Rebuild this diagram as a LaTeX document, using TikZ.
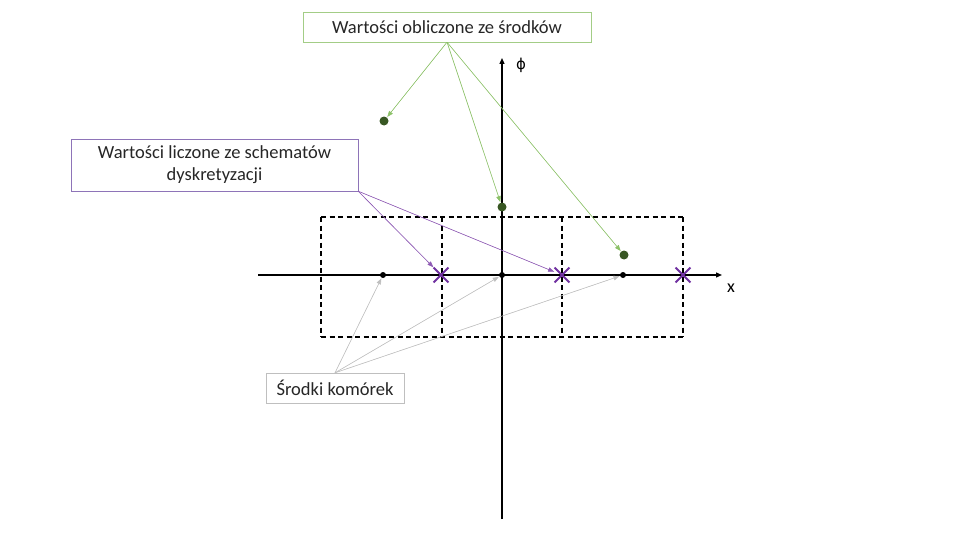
\documentclass[tikz,border=0pt]{standalone}
\usepackage{fontspec}
\setmainfont{Carlito}
\newfontfamily\symfont{DejaVu Sans}
\usepackage{tikz}
\usetikzlibrary{arrows.meta,shapes.misc}

\definecolor{ptgreen}{HTML}{385723}
\definecolor{ptline}{HTML}{8CC168}
\definecolor{ptpurple}{HTML}{7030A0}
\definecolor{ptviolet}{HTML}{8E74B8}
\definecolor{ptgray}{HTML}{BFBFBF}

\tikzset{
  labelbox/.style={draw,fill=white,text=black!85,inner sep=2pt,
    font=\fontsize{18.5}{22}\selectfont},
  valdot/.style={circle,fill=ptgreen,inner sep=0pt,minimum size=9pt},
  cdot/.style={circle,fill=black,inner sep=0pt,minimum size=6pt},
  facex/.style={cross out,draw=ptpurple,line width=1.8pt,inner sep=0pt,minimum size=13pt},
  ptarrow/.style={-{Triangle[length=6pt,width=4.5pt]},line width=0.6pt,shorten >=0.5pt},
  axisarrow/.style={-{Triangle[length=6pt,width=5pt]},line width=1.3pt},
  cellline/.style={line width=1.2pt,dash pattern=on 5pt off 3.5pt}
}

\begin{document}
\begin{tikzpicture}[x=1pt,y=-1pt]
  % 全体の大きさ (ピクセル相当)
  \useasboundingbox (0,0) rectangle (980,551);
  \def\AxisY{275}  % x軸の高さ
  \def\AxisX{502}  % φ軸の位置

  % 破線のセル
  \draw[cellline] (321,217) -- (683,217);
  \draw[cellline] (321,337) -- (683,337);
  \foreach \a in {321,442,562,683}
    \draw[cellline] (\a,217) -- (\a,337);

  % 軸
  \draw[axisarrow] (258,\AxisY) -- (722,\AxisY);
  \draw[axisarrow] (\AxisX,519) -- (\AxisX,58);
  \node[font=\fontsize{18}{22}\selectfont] (xlab) at (731,288) {x};
  \node[font=\symfont\fontsize{15}{18}\selectfont] (philab) at (521,65) {ϕ};

  % セル中心と面
  \foreach \n/\cx in {1/383,2/502,3/623}
    \node[cdot] (c\n) at (\cx,\AxisY) {};
  \foreach \n/\fx in {1/441,2/562,3/683}
    \node[facex] (f\n) at (\fx,\AxisY) {};

  % 中心から計算された値
  \node[valdot] (v1) at (384,121) {};
  \node[valdot] (v2) at (502,207) {};
  \node[valdot] (v3) at (624,255) {};

  % ラベル
  \node[labelbox,draw=ptline!80,minimum width=288pt,minimum height=30pt] (top) at (447,27)
    {Wartości obliczone ze środków};
  \node[labelbox,draw=ptviolet,minimum width=287pt,minimum height=52pt,align=center] (disc) at (214.5,165)
    {Wartości liczone ze schematów\\dyskretyzacji};
  \node[labelbox,draw=ptgray,minimum width=138pt,minimum height=30pt] (mid) at (335,388)
    {Środki komórek};

  % 矢印
  \foreach \n in {1,2,3}
    \draw[ptarrow,draw=ptline,fill=ptline] (top.south) -- (v\n);
  \foreach \n in {1,2}
    \draw[ptarrow,draw=ptpurple!80,fill=ptpurple!80] (disc.south east) -- (f\n);
  \foreach \n in {1,2,3}
    \draw[ptarrow,draw=ptgray,fill=ptgray] (mid.north) -- (c\n);
\end{tikzpicture}
\end{document}
